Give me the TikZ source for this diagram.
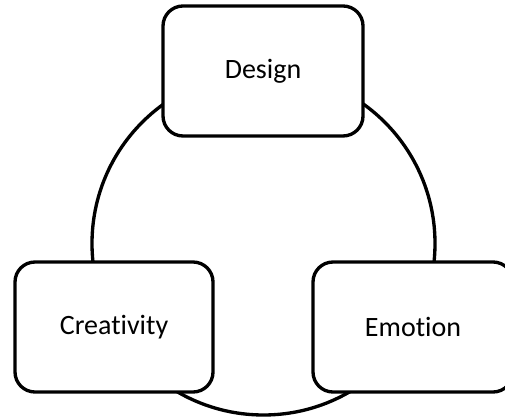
\documentclass[tikz,border=0pt]{standalone}
\usepackage{fontspec}
\setmainfont{Carlito}[Ligatures={NoCommon,NoRare}]
\usepackage{tikz}

\begin{document}
\begin{tikzpicture}[x=0.75pt,y=0.75pt,
  box/.style={draw, fill=white, line width=2.5pt, rounded corners=15pt,
    minimum width=150pt, minimum height=97.5pt,
    font=\fontsize{21}{25}\selectfont}]
\useasboundingbox (0,0) rectangle (505,417);
\draw[line width=2.5pt] (263.5,173.5) circle (171.5);
\node[box] (design) at (263,346) {Design};
\node[box, minimum width=148.5pt] (creativity) at (114,90) {Creativity};
\node[box] (emotion) at (413,90) {Emotion};
\end{tikzpicture}
\end{document}
